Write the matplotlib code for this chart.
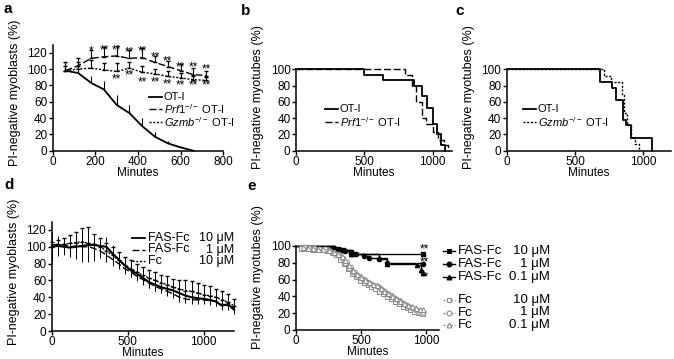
import matplotlib
matplotlib.use('Agg')
import matplotlib.pyplot as plt
from matplotlib.lines import Line2D

plt.rcParams['font.family'] = ['Liberation Sans', 'DejaVu Sans']
plt.rcParams['mathtext.fontset'] = 'custom'
plt.rcParams['mathtext.rm'] = 'Liberation Sans'
plt.rcParams['mathtext.it'] = 'Liberation Sans:italic'
plt.rcParams['font.size'] = 8

W, H = 674, 359

# ---- panel a: myoblasts, OT-I vs knockouts
a_minutes_ot = [60, 120, 180, 240, 300, 360, 420, 480, 540, 600, 660]
a_ot = [98, 95, 83, 75, 56, 46, 30, 17, 9, 4, 0]
a_ot_err = [10, 6, 8, 10, 12, 10, 10, 6, 3, 2, 1]
a_minutes_ko = [60, 120, 180, 240, 300, 360, 420, 480, 540, 600, 660, 720]
a_prf1 = [98, 104, 113, 115, 116, 113, 114, 108, 103, 98, 93, 92]
a_prf1_err = [10, 10, 10, 12, 12, 10, 12, 8, 7, 8, 8, 5]
a_gzmb = [98, 100, 101, 99, 97, 101, 96, 94, 91, 89, 87, 86]
a_gzmb_err = [6, 8, 10, 8, 10, 8, 8, 6, 6, 6, 4, 4]
a_star_top_x = [180, 240, 300, 360, 420, 480, 540, 600, 660, 720]
a_star_top_y = [122, 123, 123, 120, 122, 114, 109, 102, 102, 100]
a_star_top = ['*', '**', '**', '**', '**', '**', '**', '**', '**', '**']
a_star_low_x = [300, 360, 420, 480, 540, 600, 660, 720]
a_star_low_y = [87, 92, 83, 83, 81, 80, 80, 80]

# ---- panel b / c: myotube survival (Kaplan-Meier steps)
b_ot_t = [0, 500, 640, 860, 920, 960, 1000, 1030, 1060, 1090]
b_ot_s = [100, 93, 87, 80, 67, 53, 33, 20, 7, 0]
b_prf1_t = [0, 800, 850, 880, 920, 950, 1000, 1040, 1080, 1110]
b_prf1_s = [100, 93, 80, 60, 40, 33, 23, 13, 7, 0]
c_ot_t = [0, 680, 770, 800, 850, 870, 910, 1060]
c_ot_s = [100, 85, 77, 62, 38, 31, 15, 0]
c_gzmb_t = [0, 710, 760, 840, 860, 880, 910, 940, 970]
c_gzmb_s = [100, 92, 85, 69, 46, 31, 15, 8, 0]

# ---- panel d: myoblasts with FAS-Fc
d_minutes = [0, 40, 80, 120, 160, 200, 240, 280, 320, 360, 400, 440, 480, 520, 560, 600,
             640, 680, 720, 760, 800, 840, 880, 920, 960, 1000, 1040, 1080, 1120, 1160, 1200]
d_fas10 = [100, 101, 100, 99, 100, 101, 102, 102, 101, 100, 92, 85, 78, 72, 68, 63,
           58, 55, 52, 50, 48, 45, 42, 40, 39, 38, 37, 35, 30, 32, 25]
d_fas10_err = [18, 12, 10, 8, 8, 12, 15, 12, 10, 12, 10, 8, 8, 8, 7, 7,
               7, 7, 7, 6, 6, 6, 6, 6, 5, 5, 5, 5, 5, 5, 5]
d_fas1 = [102, 103, 102, 100, 101, 100, 100, 98, 95, 90, 85, 80, 74, 70, 65, 61,
          57, 53, 50, 47, 44, 40, 38, 37, 37, 37, 36, 35, 32, 30, 28]
d_fas1_err = [10, 8, 6, 12, 15, 18, 18, 15, 8, 8, 8, 6, 6, 6, 6, 6,
              6, 6, 5, 5, 5, 5, 5, 5, 5, 5, 5, 5, 5, 5, 5]
d_fc10 = [100, 102, 103, 104, 105, 106, 104, 103, 100, 95, 90, 84, 78, 74, 70, 66,
          63, 60, 57, 55, 52, 50, 48, 47, 45, 43, 42, 40, 37, 34, 30]
d_fc10_err = [6, 6, 8, 10, 12, 16, 20, 12, 10, 10, 10, 10, 10, 10, 10, 10,
              10, 10, 10, 10, 10, 10, 12, 12, 12, 12, 12, 10, 10, 10, 8]

# ---- panel e: myotubes with FAS-Fc / Fc
e_fas10_t = [0, 280, 300, 360, 420, 440, 980]
e_fas10_s = [100, 98, 97, 95, 93, 91, 91]
e_fas1_t = [0, 290, 330, 380, 420, 460, 520, 560, 640, 700, 980]
e_fas1_s = [100, 98, 96, 94, 92, 90, 88, 86, 84, 80, 79]
e_fas01_t = [0, 300, 350, 420, 640, 700, 930, 960, 975]
e_fas01_s = [100, 97, 95, 91, 86, 79, 77, 72, 68]
e_fc10_t = [40, 80, 120, 160, 200, 240, 280, 310, 340, 370, 400, 430, 460, 490, 520,
            550, 580, 610, 640, 670, 700, 730, 760, 790, 820, 850, 880, 910, 940, 970]
e_fc10_s = [98, 98, 97, 97, 96, 95, 93, 90, 85, 80, 74, 68, 64, 60, 57,
            55, 52, 50, 47, 44, 41, 38, 35, 32, 29, 27, 25, 23, 21, 20]
e_fc1_t = [60, 100, 140, 180, 220, 260, 290, 320, 350, 380, 410, 440, 470, 500, 530,
           560, 590, 620, 650, 680, 710, 740, 770, 800, 830, 860, 890, 920, 950, 980]
e_fc1_s = [99, 98, 98, 97, 96, 94, 92, 90, 86, 80, 74, 69, 65, 62, 59,
           56, 54, 52, 49, 46, 43, 40, 37, 34, 31, 28, 26, 24, 22, 21]
e_fc01_t = [50, 90, 130, 170, 210, 250, 290, 320, 350, 380, 410, 440, 470, 500, 530,
            560, 590, 620, 650, 680, 710, 740, 770, 800, 830, 860, 890, 920, 950, 980]
e_fc01_s = [99, 98, 98, 97, 97, 95, 93, 91, 88, 83, 77, 72, 67, 63, 60,
            57, 55, 53, 50, 47, 44, 41, 38, 35, 32, 30, 28, 26, 25, 25]
e_star_x = [990, 990, 990]
e_star_y = [96, 81, 63]

DASH = (0, (5, 2))
DOT = (0, (1.5, 1.2))
GRAY = '#8a8a8a'

fig = plt.figure(figsize=(W / 100, H / 100), dpi=100)


def px_axes(left, top, right, bottom):
    ax = fig.add_axes([left / W, 1 - bottom / H, (right - left) / W, (bottom - top) / H])
    ax.px_box = (left, top, right, bottom)
    return ax


def style(ax, xlim, ylim, xticks, yticks, ylabel, label_y):
    ax.set_xlim(*xlim)
    ax.set_ylim(*ylim)
    ax.set_xticks(xticks)
    ax.set_yticks(yticks)
    for s in ['top', 'right']:
        ax.spines[s].set_visible(False)
    for s in ['left', 'bottom']:
        ax.spines[s].set_linewidth(1.1)
    ax.tick_params(direction='out', length=3, width=1, pad=1, labelsize=8.5)
    ax.tick_params(axis='x', pad=0.5)
    ax.set_xlabel('Minutes', fontsize=8.5, labelpad=-0.5)
    ax.set_ylabel(ylabel, fontsize=9)
    left, top, right, bottom = ax.px_box
    ax.yaxis.set_label_coords(-32 / (right - left), (bottom - label_y) / (bottom - top))


def key(x0, x1, y, **kw):
    fig.add_artist(Line2D([x0 / W, x1 / W], [1 - y / H] * 2, transform=fig.transFigure, **kw))


def label(x, y, text, ha='left', size=8):
    fig.text(x / W, 1 - y / H, text, ha=ha, va='center', fontsize=size)


# panel a
ax = px_axes(52.7, 44.5, 223.3, 150.7)
ax.errorbar(a_minutes_ot, a_ot, yerr=[[0] * len(a_ot), a_ot_err], color='k', lw=1.3,
            elinewidth=0.8, capsize=0, clip_on=False)
ax.errorbar(a_minutes_ko, a_prf1, yerr=[[0] * len(a_prf1), a_prf1_err], color='k', lw=1,
            ls=DASH, elinewidth=0.8, capsize=1.5, clip_on=False)
ax.errorbar(a_minutes_ko, a_gzmb, yerr=[[0] * len(a_gzmb), a_gzmb_err], color='k', lw=1,
            ls=DOT, elinewidth=0.8, capsize=1.5, clip_on=False)
for x, y, s in zip(a_star_top_x, a_star_top_y, a_star_top):
    ax.text(x, y, s, ha='center', va='center', fontsize=8.5)
for x, y in zip(a_star_low_x, a_star_low_y):
    ax.text(x, y, '**', ha='center', va='center', fontsize=8.5)
style(ax, (0, 800), (0, 130), [0, 200, 400, 600, 800], range(0, 121, 20),
      'PI-negative myoblasts (%)', 93)
key(149, 162, 97, color='k', lw=1.3)
label(164, 97, 'OT-I')
key(149, 162, 109, color='k', lw=1, ls=DASH)
label(164, 109, r'$\mathit{Prf1}^{-/-}$ OT-I')
key(149, 162, 122, color='k', lw=1, ls=DOT)
label(164, 122, r'$\mathit{Gzmb}^{-/-}$ OT-I')

# panel b
ax = px_axes(296, 69.3, 451.8, 150.7)
ax.step(b_ot_t, b_ot_s, where='post', color='k', lw=1.3, clip_on=False)
ax.step(b_prf1_t, b_prf1_s, where='post', color='k', lw=1, ls=DASH, clip_on=False)
style(ax, (0, 1140), (0, 100), [0, 500, 1000], range(0, 101, 20),
      'PI-negative myotubes (%)', 97)
key(325, 338, 109, color='k', lw=1.3)
label(340, 109, 'OT-I')
key(325, 338, 122, color='k', lw=1, ls=DASH)
label(340, 122, r'$\mathit{Prf1}^{-/-}$ OT-I')

# panel c
ax = px_axes(506.7, 69.3, 670.7, 150.7)
ax.step(c_ot_t, c_ot_s, where='post', color='k', lw=1.3, clip_on=False)
ax.step(c_gzmb_t, c_gzmb_s, where='post', color='k', lw=1, ls=DOT, clip_on=False)
style(ax, (0, 1200), (0, 100), [0, 500, 1000], range(0, 101, 20),
      'PI-negative myotubes (%)', 97)
key(523, 536, 109, color='k', lw=1.3)
label(538, 109, 'OT-I')
key(523, 536, 122, color='k', lw=1, ls=DOT)
label(538, 122, r'$\mathit{Gzmb}^{-/-}$ OT-I')

# panel d
ax = px_axes(51.7, 221.5, 234.1, 331)
ax.errorbar(d_minutes, d_fas10, yerr=d_fas10_err, color='k', lw=1.5, elinewidth=0.7,
            capsize=0, clip_on=False)
ax.errorbar(d_minutes, d_fas1, yerr=d_fas1_err, color='k', lw=1, ls=DASH, elinewidth=0.7,
            capsize=0, clip_on=False)
ax.errorbar(d_minutes, d_fc10, yerr=[[0] * len(d_fc10), d_fc10_err], color='k', lw=1, ls=DOT,
            elinewidth=0.7, capsize=1.5, clip_on=False)
style(ax, (0, 1200), (0, 130), [0, 500, 1000], range(0, 121, 20),
      'PI-negative myoblasts (%)', 272)
for y, ls, lw, name, conc in [(238, '-', 1.3, 'FAS-Fc', '10 μM'),
                              (249.5, DASH, 1, 'FAS-Fc', '1 μM'),
                              (261, DOT, 1, 'Fc', '10 μM')]:
    key(132, 145, y, color='k', lw=lw, ls=ls)
    label(148, y, name, size=9)
    label(234, y, conc, ha='right', size=9)

# panel e
ax = px_axes(296, 246, 439, 330)
filled = [(e_fas10_t, e_fas10_s, 's'), (e_fas1_t, e_fas1_s, 'o'), (e_fas01_t, e_fas01_s, '^')]
for t, s, m in filled:
    ax.step(t, s, where='post', color='k', lw=1, clip_on=False)
    ax.plot(t[1:], s[1:], ls='none', marker=m, ms=3, color='k', clip_on=False)
opened = [(e_fc10_t, e_fc10_s, 's'), (e_fc1_t, e_fc1_s, 'o'), (e_fc01_t, e_fc01_s, '^')]
for t, s, m in opened:
    ax.step(t, s, where='post', color=GRAY, lw=0.8, ls=DOT, clip_on=False)
    ax.plot(t, s, ls='none', marker=m, ms=3.6, mfc='white', mec=GRAY, mew=0.7, clip_on=False)
for x, y in zip(e_star_x, e_star_y):
    ax.text(x, y, '**', ha='center', va='center', fontsize=8.5)
style(ax, (0, 1100), (0, 100), [0, 500, 1000], range(0, 101, 20),
      'PI-negative myotubes (%)', 277)
rows = [(251, 's', 'k', 'k', '-', 'FAS-Fc', '10 μM'),
        (264, 'o', 'k', 'k', '-', 'FAS-Fc', '1 μM'),
        (277, '^', 'k', 'k', '-', 'FAS-Fc', '0.1 μM'),
        (300, 's', 'white', GRAY, DOT, 'Fc', '10 μM'),
        (312.5, 'o', 'white', GRAY, DOT, 'Fc', '1 μM'),
        (325, '^', 'white', GRAY, DOT, 'Fc', '0.1 μM')]
for y, m, fc, ec, ls, name, conc in rows:
    key(443, 455, y, color=ec, lw=1, ls=ls)
    fig.add_artist(Line2D([449 / W], [1 - y / H], transform=fig.transFigure, ls='none',
                          marker=m, ms=3.5, mfc=fc, mec=ec, mew=0.8))
    label(458, y, name, size=9.5)
    label(550, y, conc, ha='right', size=9.5)

# panel letters
for x, y, s in [(4, 9, 'a'), (241, 11, 'b'), (455, 11, 'c'), (4, 185, 'd'), (247, 186, 'e')]:
    fig.text(x / W, 1 - y / H, s, fontsize=11, fontweight='bold', va='center')

fig.savefig('out.png', dpi=100)
